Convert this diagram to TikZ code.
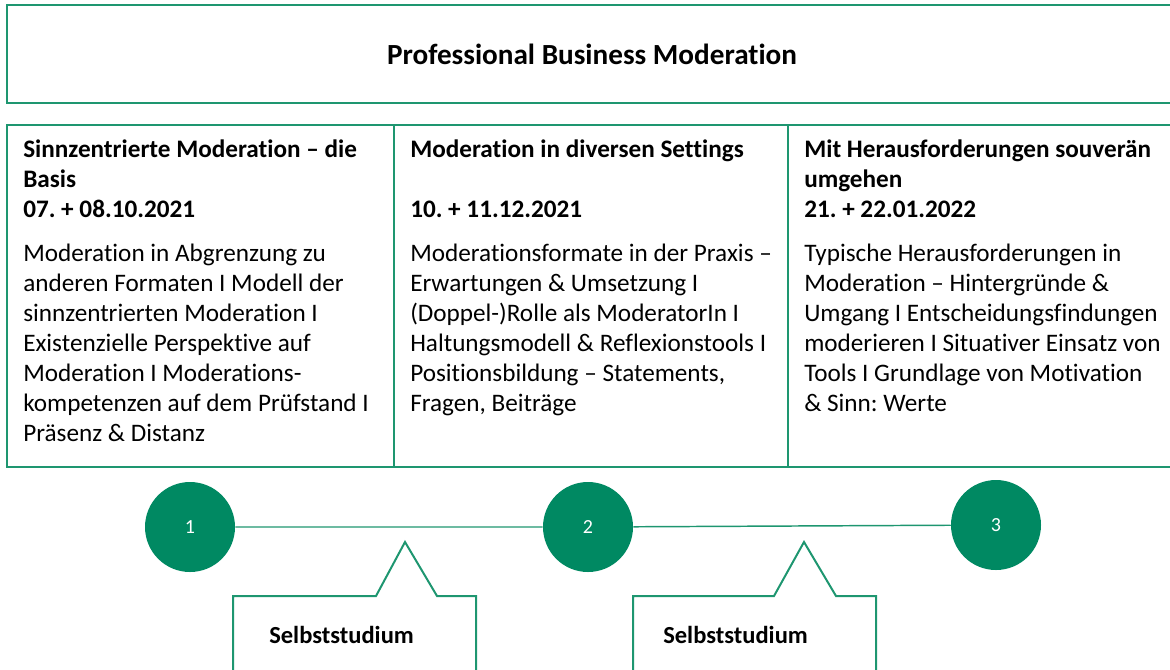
\documentclass[tikz,border=0pt]{standalone}
\usepackage{fontspec}
\setmainfont{Carlito}[Ligatures=NoCommon]
\usetikzlibrary{positioning}
\definecolor{mgreen}{RGB}{0,137,98}
\definecolor{lgreen}{RGB}{30,150,112}
\frenchspacing

\begin{document}
\begin{tikzpicture}[x=0.75pt,y=-0.75pt,
    rahmen/.style={draw=lgreen, line width=1.5pt},
    punkt/.style={circle, fill=mgreen, minimum size=67.5pt, inner sep=0pt,
      text=white, font=\fontsize{15}{18}\selectfont},
    spalte/.style={anchor=north west, align=left, inner sep=0pt,
      font=\fontsize{18.9}{22.5}\selectfont},
    studium/.style={anchor=west, inner sep=0pt,
      font=\fontsize{18.4}{22.5}\selectfont\bfseries}]
  \clip (0,0) rectangle (1170,669);

  % Titel
  \node[rahmen, minimum width=877.5pt, minimum height=73.5pt,
    font=\fontsize{21.9}{26}\selectfont\bfseries] (titel) at (592,54)
    {Professional Business Moderation};

  % Drei Module
  \draw[rahmen] (7,125) rectangle (394,467);
  \draw[rahmen] (394,125) rectangle (788,467);
  \draw[rahmen] (788,125) rectangle (1185,467);

  \node[spalte] (modul1) at (23,140) {\textbf{Sinnzentrierte Moderation – die}\\
    \textbf{Basis}\\
    \textbf{07. + 08.10.2021}\\[10pt]
    Moderation in Abgrenzung zu\\
    anderen Formaten I Modell der\\
    sinnzentrierten Moderation I\\
    Existenzielle Perspektive auf\\
    Moderation I Moderations-\\
    kompetenzen auf dem Prüfstand I\\
    Präsenz \& Distanz};
  \node[spalte] (modul2) at (410,140) {\textbf{Moderation in diversen Settings}\\
    \mbox{}\\
    \textbf{10. + 11.12.2021}\\[10pt]
    Moderationsformate in der Praxis –\\
    Erwartungen \& Umsetzung I\\
    (Doppel-)Rolle als ModeratorIn I\\
    Haltungsmodell \& Reflexionstools I\\
    Positionsbildung – Statements,\\
    Fragen, Beiträge};
  \node[spalte] (modul3) at (804,140) {\textbf{Mit Herausforderungen souverän}\\
    \textbf{umgehen}\\
    \textbf{21. + 22.01.2022}\\[10pt]
    Typische Herausforderungen in\\
    Moderation – Hintergründe \&\\
    Umgang I Entscheidungsfindungen\\
    moderieren I Situativer Einsatz von\\
    Tools I Grundlage von Motivation\\
    \& Sinn: Werte};

  % Zeitstrahl
  \node[punkt] (p1) at (190,527) {1};
  \node[punkt] (p2) at (588,527) {2};
  \node[punkt] (p3) at (996,525) {3};
  \draw[lgreen, line width=1.1pt] (p1) -- (p2) -- (p3);

  % Selbststudium
  \draw[rahmen] (233,680) -- (233,596) -- (376,596) -- (405,542)
    -- (437,596) -- (476,596) -- (476,680);
  \node[studium] (s1) at (269,635) {Selbststudium};
  \draw[rahmen] (633,680) -- (633,596) -- (774,596) -- (804,542)
    -- (836,596) -- (876,596) -- (876,680);
  \node[studium] (s2) at (663,635) {Selbststudium};
\end{tikzpicture}
\end{document}
